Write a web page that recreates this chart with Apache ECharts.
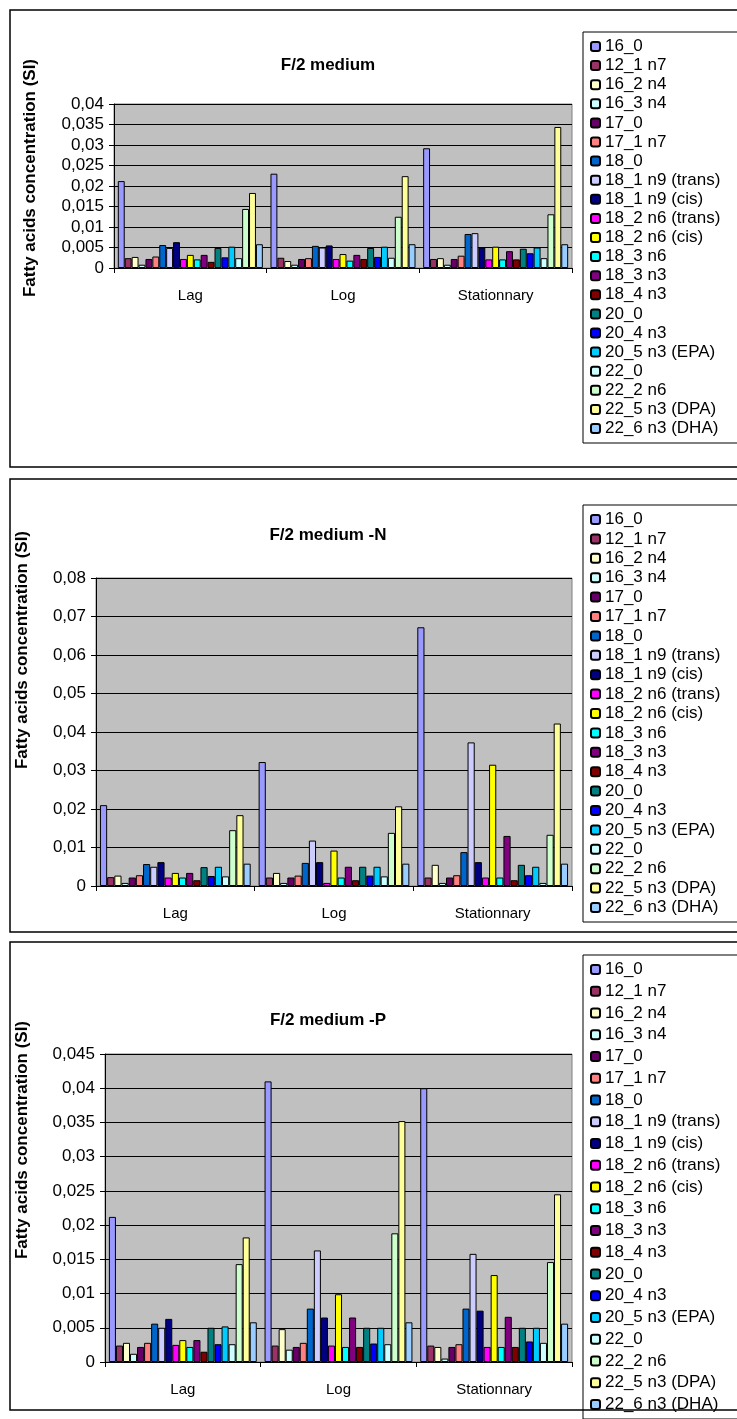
<!DOCTYPE html>
<html>
<head>
<meta charset="utf-8">
<title>Fatty acids</title>
<script src="https://cdn.jsdelivr.net/npm/echarts@6/dist/echarts.min.js"></script>
<style>
html, body { margin: 0; padding: 0; background: #fff; overflow: hidden; }
#chart { width: 737px; height: 1419px; }
</style>
</head>
<body>
<div id="chart"></div>
<script>
'use strict'

var phases = ['Lag', 'Log', 'Stationnary'];

var acids = ['16_0', '12_1 n7', '16_2 n4', '16_3 n4', '17_0', '17_1 n7', '18_0',
    '18_1 n9 (trans)', '18_1 n9 (cis)', '18_2 n6 (trans)', '18_2 n6 (cis)', '18_3 n6',
    '18_3 n3', '18_4 n3', '20_0', '20_4 n3', '20_5 n3 (EPA)', '22_0', '22_2 n6',
    '22_5 n3 (DPA)', '22_6 n3 (DHA)'];

var acidColors = ['#9999FF', '#993366', '#FFFFCC', '#CCFFFF', '#660066', '#FF8080', '#0066CC',
    '#CCCCFF', '#000080', '#FF00FF', '#FFFF00', '#00FFFF', '#800080', '#800000', '#008080',
    '#0000FF', '#00CCFF', '#CCFFFF', '#CCFFCC', '#FFFF99', '#99CCFF'];

// F/2 medium
var f2Lag  = [0.0212, 0.0024, 0.0027, 0.0008, 0.0022, 0.0028, 0.0056, 0.0049, 0.0063, 0.0022, 0.0032,
    0.0021, 0.0032, 0.0015, 0.0049, 0.0026, 0.0052, 0.0024, 0.0144, 0.0183, 0.0058];
var f2Log  = [0.0230, 0.0025, 0.0017, 0.0008, 0.0022, 0.0024, 0.0054, 0.0050, 0.0055, 0.0022, 0.0034,
    0.0018, 0.0032, 0.0022, 0.0049, 0.0027, 0.0052, 0.0025, 0.0125, 0.0224, 0.0058];
var f2Stat = [0.0292, 0.0022, 0.0024, 0.0008, 0.0022, 0.0030, 0.0083, 0.0085, 0.0050, 0.0021, 0.0052,
    0.0021, 0.0041, 0.0021, 0.0047, 0.0036, 0.0050, 0.0024, 0.0131, 0.0344, 0.0058];

// F/2 medium -N
var f2nLag  = [0.0210, 0.0023, 0.0027, 0.0008, 0.0022, 0.0028, 0.0057, 0.0050, 0.0062, 0.0022, 0.0034,
    0.0022, 0.0034, 0.0015, 0.0049, 0.0026, 0.0050, 0.0025, 0.0145, 0.0184, 0.0058];
var f2nLog  = [0.0322, 0.0022, 0.0034, 0.0008, 0.0022, 0.0027, 0.0060, 0.0118, 0.0062, 0.0008, 0.0092,
    0.0022, 0.0050, 0.0015, 0.0050, 0.0027, 0.0050, 0.0025, 0.0138, 0.0207, 0.0058];
var f2nStat = [0.0672, 0.0022, 0.0055, 0.0008, 0.0022, 0.0028, 0.0088, 0.0373, 0.0062, 0.0022, 0.0315,
    0.0022, 0.0130, 0.0015, 0.0055, 0.0028, 0.0050, 0.0008, 0.0133, 0.0422, 0.0058];

// F/2 medium -P
var f2pLag  = [0.0212, 0.0024, 0.0028, 0.0012, 0.0022, 0.0028, 0.0056, 0.0050, 0.0063, 0.0025, 0.0032,
    0.0022, 0.0032, 0.0015, 0.0050, 0.0026, 0.0052, 0.0026, 0.0143, 0.0182, 0.0058];
var f2pLog  = [0.0410, 0.0024, 0.0048, 0.0018, 0.0022, 0.0028, 0.0078, 0.0163, 0.0065, 0.0024, 0.0099,
    0.0022, 0.0065, 0.0022, 0.0050, 0.0027, 0.0050, 0.0026, 0.0188, 0.0352, 0.0058];
var f2pStat = [0.0400, 0.0024, 0.0022, 0.0005, 0.0022, 0.0026, 0.0078, 0.0158, 0.0075, 0.0022, 0.0127,
    0.0022, 0.0066, 0.0022, 0.0050, 0.0030, 0.0050, 0.0028, 0.0146, 0.0245, 0.0056];

var panelTitles = ['F/2 medium', 'F/2 medium -N', 'F/2 medium -P'];
var yMax = [0.04, 0.08, 0.045];
var yStep = [0.005, 0.01, 0.005];

var panels = [
    {vals: [f2Lag, f2Log, f2Stat], frame: [10, 467], grid: [114, 104, 164], title: 65, yTitle: [30, 178], legend: [32, 0.1, 5]},
    {vals: [f2nLag, f2nLog, f2nStat], frame: [479, 932], grid: [96, 578, 308], title: 535, yTitle: [22, 650], legend: [505, 0.4, 5]},
    {vals: [f2pLag, f2pLog, f2pStat], frame: [942, 1410], grid: [105, 1054, 308], title: 1020, yTitle: [22, 1140], legend: [955, 2.75, 5]}
];

var font = 'Arial, "Liberation Sans", sans-serif';

function fmt(v) {
    return String(parseFloat(v.toFixed(4))).replace('.', ',');
}

var grids = [], xAxes = [], yAxes = [], series = [], legends = [], graphics = [];

for (var p = 0; p < panels.length; p++) {
    var pn = panels[p];
    grids.push({
        left: pn.grid[0], right: 165, top: pn.grid[1], height: pn.grid[2],
        show: true, backgroundColor: '#C0C0C0', borderColor: '#808080', borderWidth: 1
    });
    xAxes.push({
        type: 'category', gridIndex: p, data: phases,
        axisLine: {lineStyle: {color: '#000', width: 1}},
        axisTick: {show: true, length: 5, lineStyle: {color: '#000'}},
        axisLabel: {color: '#000', fontSize: 15, fontFamily: font, margin: 20}
    });
    yAxes.push({
        type: 'value', gridIndex: p, min: 0, max: yMax[p], interval: yStep[p],
        axisLine: {show: true, lineStyle: {color: '#000', width: 1}},
        axisTick: {show: true, length: 5, lineStyle: {color: '#000'}},
        axisLabel: {color: '#000', fontSize: 17, fontFamily: font, margin: 10, formatter: fmt},
        splitLine: {lineStyle: {color: '#000', width: 1}}
    });
    for (var i = 0; i < acids.length; i++) {
        series.push({
            name: acids[i], type: 'bar', xAxisIndex: p, yAxisIndex: p,
            data: [pn.vals[0][i], pn.vals[1][i], pn.vals[2][i]],
            barGap: '0%', barCategoryGap: '5%',
            itemStyle: {color: acidColors[i], borderColor: '#000', borderWidth: 1},
            animation: false
        });
    }
    legends.push({
        data: acids, orient: 'vertical', left: 583, top: pn.legend[0],
        itemWidth: 9, itemHeight: 9, itemGap: pn.legend[1],
        padding: [pn.legend[2], 60, pn.legend[2], 7],
        backgroundColor: '#fff', borderColor: '#000', borderWidth: 1,
        textStyle: {color: '#000', fontSize: 17, fontFamily: font, lineHeight: 19},
        selectedMode: false
    });
    graphics.push({
        type: 'rect', z: 100, silent: true,
        shape: {x: 10, y: pn.frame[0], width: 740, height: pn.frame[1] - pn.frame[0]},
        style: {fill: 'none', stroke: '#000', lineWidth: 1.5}
    });
    graphics.push({
        type: 'text', x: 328, y: pn.title, z: 100,
        style: {text: panelTitles[p], font: 'bold 17px ' + font, fill: '#000',
            textAlign: 'center', textVerticalAlign: 'middle'}
    });
    graphics.push({
        type: 'text', x: pn.yTitle[0], y: pn.yTitle[1], rotation: Math.PI / 2, z: 100,
        style: {text: 'Fatty acids concentration (SI)', font: 'bold 17px ' + font, fill: '#000',
            textAlign: 'center', textVerticalAlign: 'middle'}
    });
}

var myChart = echarts.init(document.getElementById('chart'));
myChart.setOption({
    animation: false,
    grid: grids,
    xAxis: xAxes,
    yAxis: yAxes,
    legend: legends,
    series: series,
    graphic: graphics
});
</script>
</body>
</html>
